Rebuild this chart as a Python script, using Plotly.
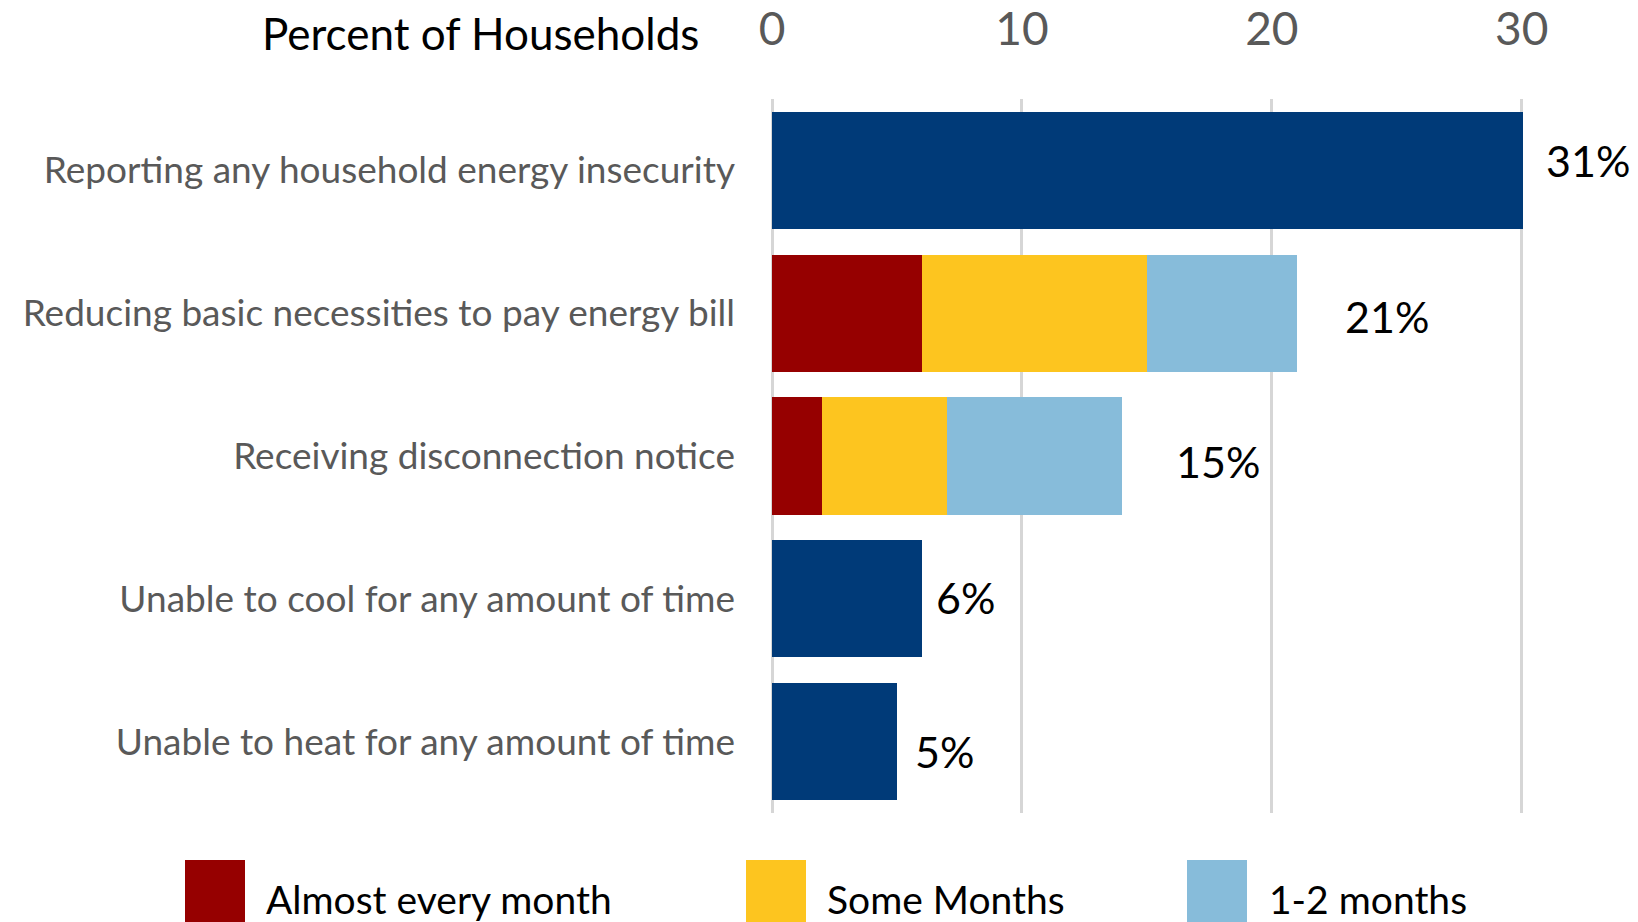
import plotly.graph_objects as go

# ---------------- data ----------------
categories = [
    "Reporting any household energy insecurity",
    "Reducing basic necessities to pay energy bill",
    "Receiving disconnection notice",
    "Unable to cool for any amount of time",
    "Unable to heat for any amount of time",
]
overall_values = [31, None, None, 6, 5]
almost_every_month = [None, 6, 2, None, None]
some_months = [None, 9, 5, None, None]
one_two_months = [None, 6, 7, None, None]
total_labels = [31, 21, 15, 6, 5]
series_names = ["Almost every month", "Some Months", "1-2 months"]
x_ticks = [0, 10, 20, 30]
axis_title = "Percent of Households"

# ---------------- style ----------------
NAVY = "#003A78"
RED = "#960000"
YELLOW = "#FDC51F"
LIGHTBLUE = "#87BCDA"
GRID = "#D6D6D6"
FONT = "Lato"
W, H = 1638, 922
L, R, T, B = 772, 115, 99, 109
X_MAX = 30.05
label_gap = [-0.1, 1.85, 2.1, 0.5, 0.63]
label_yshift = [10, -3, -5, 1, -10]

fig = go.Figure()
fig.add_trace(go.Bar(y=categories, x=overall_values, orientation="h",
                     marker=dict(color=NAVY, line=dict(width=0)),
                     showlegend=False, hoverinfo="x+y"))
for name, vals, col in zip(series_names,
                           [almost_every_month, some_months, one_two_months],
                           [RED, YELLOW, LIGHTBLUE]):
    fig.add_trace(go.Bar(y=categories, x=vals, orientation="h", name=name,
                         marker=dict(color=col, line=dict(width=0)),
                         showlegend=False))

# data labels
bar_ends = []
for i in range(len(categories)):
    s = sum(v for v in (overall_values[i], almost_every_month[i],
                        some_months[i], one_two_months[i]) if v is not None)
    bar_ends.append(s)
for cat, end, gap, ys, lab in zip(categories, bar_ends, label_gap,
                                  label_yshift, total_labels):
    fig.add_annotation(xref="paper", yref="y", x=(end + gap) / X_MAX, y=cat,
                       text=f"{lab}%", showarrow=False, xanchor="left",
                       yanchor="middle", yshift=ys,
                       font=dict(family=FONT, size=43, color="#000000"))

plot_w = W - L - R
plot_h = H - T - B


def px_x(p):
    return (p - L) / plot_w


def px_y(q):
    return (H - B - q) / plot_h


# custom legend (large swatches)
legend_sq = [(185, 245), (746, 806), (1187, 1247)]
legend_txt_x = [264, 825, 1267]
for (x0, x1), tx, name, col in zip(legend_sq, legend_txt_x, series_names,
                                   [RED, YELLOW, LIGHTBLUE]):
    fig.add_shape(type="rect", xref="paper", yref="paper",
                  x0=px_x(x0), x1=px_x(x1), y0=px_y(930), y1=px_y(860),
                  fillcolor=col, line=dict(width=0), layer="above")
    fig.add_annotation(xref="paper", yref="paper", x=px_x(tx), y=px_y(899),
                       text=name, showarrow=False, xanchor="left",
                       yanchor="middle",
                       font=dict(family=FONT, size=39, color="#000000"))

fig.add_annotation(xref="paper", yref="paper", x=px_x(701), y=px_y(33),
                   text=axis_title, showarrow=False, xanchor="right",
                   yanchor="middle",
                   font=dict(family=FONT, size=44, color="#000000"))

fig.update_layout(
    width=W, height=H, barmode="stack", bargap=0.18,
    paper_bgcolor="white", plot_bgcolor="white",
    margin=dict(l=L, r=R, t=T, b=B, autoexpand=False),
    showlegend=False,
    font=dict(family=FONT),
    xaxis=dict(side="top", range=[0, X_MAX], tickvals=x_ticks,
               showgrid=True, gridcolor=GRID, gridwidth=2.5,
               zeroline=True, zerolinecolor=GRID, zerolinewidth=2.5,
               showline=False, ticks="",
               tickfont=dict(family=FONT, size=46, color="#595959"),
               ticklabelstandoff=44),
    yaxis=dict(autorange="reversed", showgrid=False, ticks="",
               tickfont=dict(family=FONT, size=37, color="#595959"),
               ticklabelstandoff=36),
)

fig.write_html(
    "out.html",
    config={"displayModeBar": False},
    post_script="document.body.style.margin='0';"
                "document.body.style.overflow='hidden';",
)
